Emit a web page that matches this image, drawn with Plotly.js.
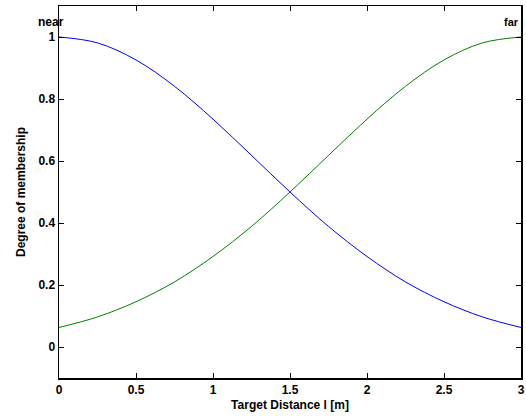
<!DOCTYPE html>
<html><head><meta charset="utf-8">
<script src="https://cdn.plot.ly/plotly-3.0.1.min.js"></script>
<style>html,body{margin:0;padding:0;background:#fff}</style>
</head><body>
<div id="chart" style="width:526px;height:419px"></div>
<script>
// distance values (m)
const distance = [0, 0.25, 0.5, 0.75, 1.0, 1.25, 1.5, 1.75, 2.0, 2.25, 2.5, 2.75, 3.0];
// membership "near" (blue)
const nearVals = [1.0, 0.981, 0.926, 0.841, 0.735, 0.618, 0.5, 0.389, 0.292, 0.210, 0.146, 0.097, 0.063];
// membership "far" (green)
const farVals  = [0.063, 0.097, 0.146, 0.210, 0.292, 0.389, 0.5, 0.618, 0.735, 0.841, 0.926, 0.981, 1.0];
const xTicks = [0, 0.5, 1, 1.5, 2, 2.5, 3];
const xTickText = ['0', '0.5', '1', '1.5', '2', '2.5', '3'];
const yTicks = [0, 0.2, 0.4, 0.6, 0.8, 1];
const yTickText = ['0', '0.2', '0.4', '0.6', '0.8', '1'];
const labels = ['near', 'far'];

const narrow = {family: 'Liberation Sans Narrow, Arial Narrow, sans-serif', size: 12, color: '#000', weight: 'bold'};
const titleFont = {family: 'Liberation Sans, Arial, sans-serif', size: 12, color: '#000', weight: 'bold'};

const traces = [
  {x: distance, y: nearVals, mode: 'lines', line: {color: '#0000ff', width: 1, shape: 'spline'}, hoverinfo: 'skip'},
  {x: distance, y: farVals, mode: 'lines', line: {color: '#008000', width: 1, shape: 'spline'}, hoverinfo: 'skip'}
];

const axisCommon = {
  showgrid: false, zeroline: false, showline: true, linecolor: '#000', linewidth: 1.5,
  mirror: 'ticks', ticks: 'inside', ticklen: 5, tickcolor: '#000', tickwidth: 1,
  tickfont: narrow
};

const layout = {
  width: 526, height: 419,
  margin: {l: 59, r: 5, t: 6, b: 41},
  paper_bgcolor: '#fff', plot_bgcolor: '#fff',
  showlegend: false,
  font: narrow,
  xaxis: Object.assign({}, axisCommon, {
    range: [0, 3], tickvals: xTicks, ticktext: xTickText,
    title: {text: 'Target Distance l [m]', font: titleFont, standoff: 4}
  }),
  yaxis: Object.assign({}, axisCommon, {
    range: [-0.1, 1.1], tickvals: yTicks, ticktext: yTickText,
    title: {text: 'Degree of membership', font: titleFont, standoff: 10}
  }),
  annotations: [
    {x: 0, y: 1.05, xref: 'x', yref: 'y', text: labels[0], showarrow: false, xanchor: 'center', yanchor: 'middle', xshift: -8, font: narrow},
    {x: 3, y: 1.05, xref: 'x', yref: 'y', text: labels[1], showarrow: false, xanchor: 'right', yanchor: 'middle', xshift: 0, font: Object.assign({}, narrow, {size: 11})}
  ]
};

Plotly.newPlot('chart', traces, layout, {staticPlot: true, displayModeBar: false});
</script>
</body></html>
